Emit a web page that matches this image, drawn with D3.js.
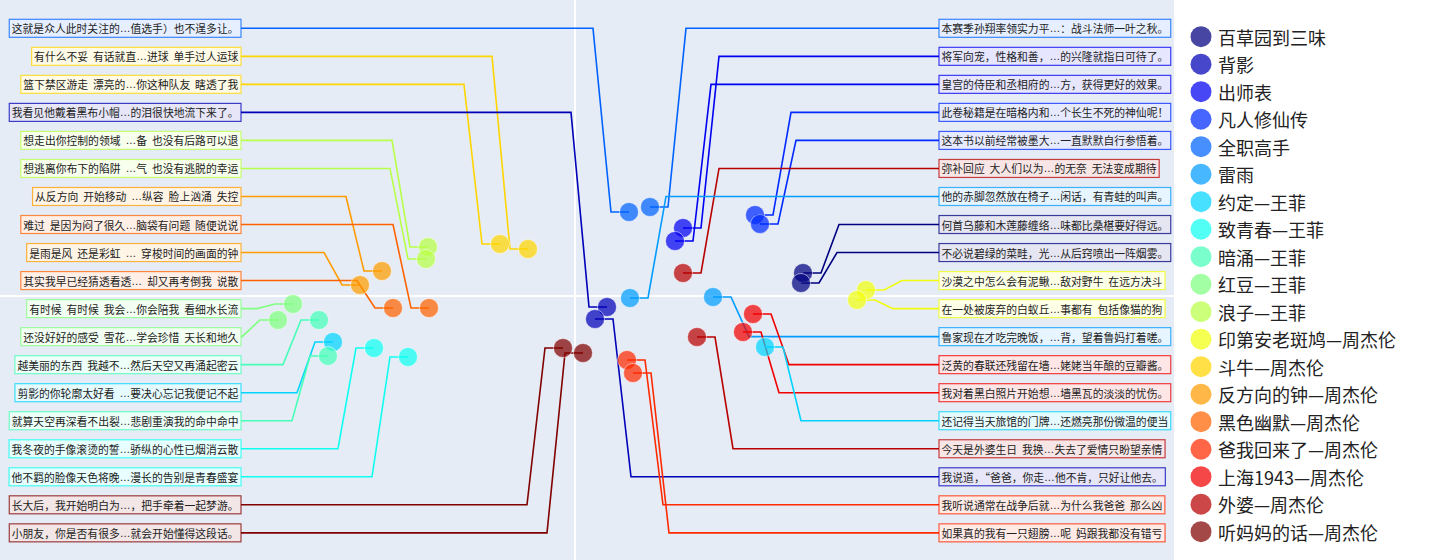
<!DOCTYPE html>
<html>
<head>
<meta charset="utf-8">
<script src="https://cdn.jsdelivr.net/npm/d3@7"></script>
<style>
  body { margin: 0; background: #fff; font-family: "Noto Sans CJK SC", "Noto Sans", sans-serif; }
  .snip { word-spacing: 2.5px; }
</style>
</head>
<body>
<svg id="chart" width="1440" height="560"></svg>
<script>
const categories = [
  "百草园到三味", "背影", "出师表", "凡人修仙传", "全职高手", "雷雨",
  "约定—王菲", "致青春—王菲", "暗涌—王菲", "红豆—王菲", "浪子—王菲",
  "印第安老斑鸠—周杰伦", "斗牛—周杰伦", "反方向的钟—周杰伦", "黑色幽默—周杰伦",
  "爸我回来了—周杰伦", "上海1943—周杰伦", "外婆—周杰伦", "听妈妈的话—周杰伦"
];

// [category, x, y, snippet] — labels stacked on the left, top to bottom
const leftPoints = [
  ["全职高手", 5.4, 8.4, "这就是众人此时关注的…值选手）也不逞多让。"],
  ["斗牛—周杰伦", -4.7, 4.7, "有什么不妥 有话就直…进球 单手过人运球"],
  ["斗牛—周杰伦", -7.5, 5.2, "篮下禁区游走 漂亮的…你这种队友 瞎透了我"],
  ["背影", 3.2, -1.1, "我看见他戴着黑布小帽…的泪很快地流下来了。"],
  ["浪子—王菲", -14.7, 4.9, "想走出你控制的领域 …备 也没有后路可以退"],
  ["浪子—王菲", -14.9, 3.7, "想逃离你布下的陷阱 …气 也没有逃脱的幸运"],
  ["反方向的钟—周杰伦", -19.3, 2.5, "从反方向 开始移动 …纵容 脸上汹涌 失控"],
  ["黑色幽默—周杰伦", -14.6, -1.2, "难过 是因为闷了很久…脑袋有问题 随便说说"],
  ["反方向的钟—周杰伦", -21.5, 1.1, "是雨是风 还是彩虹 … 穿梭时间的画面的钟"],
  ["黑色幽默—周杰伦", -18.2, -1.2, "其实我早已经猜透看透… 却又再考倒我 说散"],
  ["红豆—王菲", -28.2, -0.8, "有时候 有时候 我会…你会陪我 看细水长流"],
  ["红豆—王菲", -29.7, -2.4, "还没好好的感受 雪花…学会珍惜 天长和地久"],
  ["暗涌—王菲", -25.6, -2.4, "越美丽的东西 我越不…然后天空又再涌起密云"],
  ["约定—王菲", -24.2, -4.6, "剪影的你轮廓太好看 …要决心忘记我便记不起"],
  ["暗涌—王菲", -24.7, -6.0, "就算天空再深看不出裂…悲剧重演我的命中命中"],
  ["致青春—王菲", -20.1, -5.2, "我冬夜的手像滚烫的誓…骄纵的心性已烟消云散"],
  ["致青春—王菲", -16.7, -6.1, "他不羁的脸像天色将晚…漫长的告别是青春盛宴"],
  ["听妈妈的话—周杰伦", -1.2, -5.2, "长大后，我开始明白为…，把手牵着一起梦游。"],
  ["听妈妈的话—周杰伦", 0.8, -5.7, "小朋友，你是否有很多…就会开始懂得这段话。"]
];

// labels stacked on the right, top to bottom
const rightPoints = [
  ["全职高手", 7.5, 8.9, "本赛季孙翔率领实力平…：战斗法师一叶之秋。"],
  ["出师表", 10.8, 6.8, "将军向宠，性格和善，…的兴隆就指日可待了。"],
  ["出师表", 10.0, 5.5, "皇宫的侍臣和丞相府的…方，获得更好的效果。"],
  ["凡人修仙传", 18.0, 8.1, "此卷秘籍是在暗格内和…个长生不死的神仙呢！"],
  ["凡人修仙传", 18.5, 7.2, "这本书以前经常被墨大…一直默默自行参悟着。"],
  ["外婆—周杰伦", 10.8, 2.3, "弥补回应 大人们以为…的无奈 无法变成期待"],
  ["雷雨", 5.5, -0.2, "他的赤脚忽然放在椅子…闲话，有青蛙的叫声。"],
  ["百草园到三味", 22.8, 2.3, "何首乌藤和木莲藤缠络…味都比桑椹要好得远。"],
  ["百草园到三味", 22.6, 1.3, "不必说碧绿的菜畦，光…从后窍喷出一阵烟雾。"],
  ["印第安老斑鸠—周杰伦", 29.1, 0.6, "沙漠之中怎么会有泥鳅…敌对野牛 在远方决斗"],
  ["印第安老斑鸠—周杰伦", 28.2, -0.4, "在一处被废弃的白蚁丘…事都有 包括像猫的狗"],
  ["雷雨", 13.8, -0.1, "鲁家现在才吃完晚饭，…背，望着鲁妈打着嗟。"],
  ["上海1943—周杰伦", 17.8, -1.8, "泛黄的春联还残留在墙…姥姥当年酿的豆瓣酱。"],
  ["上海1943—周杰伦", 16.8, -3.6, "我对着黑白照片开始想…墙黑瓦的淡淡的忧伤。"],
  ["约定—王菲", 19.0, -5.1, "还记得当天旅馆的门牌…还燃亮那份微温的便当"],
  ["外婆—周杰伦", 12.2, -4.1, "今天是外婆生日 我换…失去了爱情只盼望亲情"],
  ["背影", 2.0, -2.3, "我说道，“爸爸，你走…他不肯，只好让他去。"],
  ["爸我回来了—周杰伦", 5.2, -6.4, "我听说通常在战争后就…为什么我爸爸 那么凶"],
  ["爸我回来了—周杰伦", 5.8, -7.7, "如果真的我有一只翅膀…呢 妈跟我都没有错亏"]
];

const plotW = 1174, plotH = 560;

// jet colormap
function jet(t) {
  const c = v => Math.round(255 * Math.max(0, Math.min(1, v)));
  return d3.rgb(c(1.5 - Math.abs(4 * t - 3)), c(1.5 - Math.abs(4 * t - 2)), c(1.5 - Math.abs(4 * t - 1))).formatHex();
}
const color = d3.scaleOrdinal()
  .domain(categories)
  .range(categories.map((d, i) => jet(i / (categories.length - 1))));

const x = d3.scaleLinear().domain([-57.5, 59.9]).range([0, plotW]);
const y = d3.scaleLinear().domain([-26.4, 29.6]).range([plotH, 0]);

const svg = d3.select("#chart");

// plot background + zero lines
svg.append("rect")
  .attr("width", plotW)
  .attr("height", plotH)
  .attr("fill", "#E5ECF6");

svg.append("line")
  .attr("x1", x(0)).attr("x2", x(0))
  .attr("y1", 0).attr("y2", plotH)
  .attr("stroke", "#fff").attr("stroke-width", 2);
svg.append("line")
  .attr("x1", 0).attr("x2", plotW)
  .attr("y1", y(0)).attr("y2", y(0))
  .attr("stroke", "#fff").attr("stroke-width", 2);

// label slots
const slotY = i => 28.3 + 28.03 * i;
const leftEdge = 241, rightEdge = 939;

const items = leftPoints.map((d, i) => ({cat: d[0], vx: d[1], vy: d[2], text: d[3], side: -1, ly: slotY(i)}))
  .concat(rightPoints.map((d, i) => ({cat: d[0], vx: d[1], vy: d[2], text: d[3], side: 1, ly: slotY(i)})));

// connector lines
const linkG = svg.append("g");
linkG.selectAll("path")
  .data(items)
  .join("path")
  .attr("fill", "none")
  .attr("stroke", d => color(d.cat))
  .attr("stroke-width", 1.6)
  .attr("d", d => {
    const px = x(d.vx), py = y(d.vy);
    const ex = d.side < 0 ? leftEdge : rightEdge;
    return `M${px},${py}L${px + d.side * 18},${py}L${px + d.side * 36},${d.ly}L${ex},${d.ly}`;
  });

// label boxes
const labelG = svg.append("g");
const lab = labelG.selectAll("g")
  .data(items)
  .join("g");

lab.append("rect")
  .attr("fill", d => d3.interpolateRgb("#fff", color(d.cat))(0.1))
  .attr("stroke", d => color(d.cat))
  .attr("stroke-opacity", 0.75)
  .attr("stroke-width", 1.2);

const txt = lab.append("text")
  .attr("class", "snip")
  .attr("font-size", 10.8)
  .attr("fill", "#222")
  .attr("dominant-baseline", "central")
  .attr("y", d => d.ly);

// put the ellipsis in a latin font so the dots sit on the baseline
txt.each(function(d) {
  const t = d3.select(this);
  d.text.split("…").forEach((part, i) => {
    if (i > 0) t.append("tspan").attr("font-family", "Liberation Sans").text("…");
    t.append("tspan").text(part);
  });
});

lab.each(function(d) {
  const g = d3.select(this);
  const t = g.select("text");
  const w = t.node().getBBox().width + 5;
  const bx = d.side < 0 ? leftEdge - w : rightEdge;
  t.attr("x", bx + 2.5);
  g.select("rect")
    .attr("x", bx)
    .attr("y", d.ly - 9)
    .attr("width", w)
    .attr("height", 18);
});

// points
svg.append("g")
  .selectAll("circle")
  .data(items)
  .join("circle")
  .attr("cx", d => x(d.vx))
  .attr("cy", d => y(d.vy))
  .attr("r", 9.5)
  .attr("fill", d => color(d.cat))
  .attr("fill-opacity", 0.72)
  .attr("stroke", "#fff")
  .attr("stroke-opacity", 0.5)
  .attr("stroke-width", 1);

// legend
const legend = svg.append("g")
  .selectAll("g")
  .data(categories)
  .join("g")
  .attr("transform", (d, i) => `translate(1201,${36.7 + 27.5 * i})`);

legend.append("circle")
  .attr("r", 10.5)
  .attr("fill", d => color(d))
  .attr("fill-opacity", 0.72);

legend.append("text")
  .attr("x", 17)
  .attr("dominant-baseline", "central")
  .attr("font-size", 18)
  .attr("fill", "#222")
  .text(d => d);
</script>
</body>
</html>
